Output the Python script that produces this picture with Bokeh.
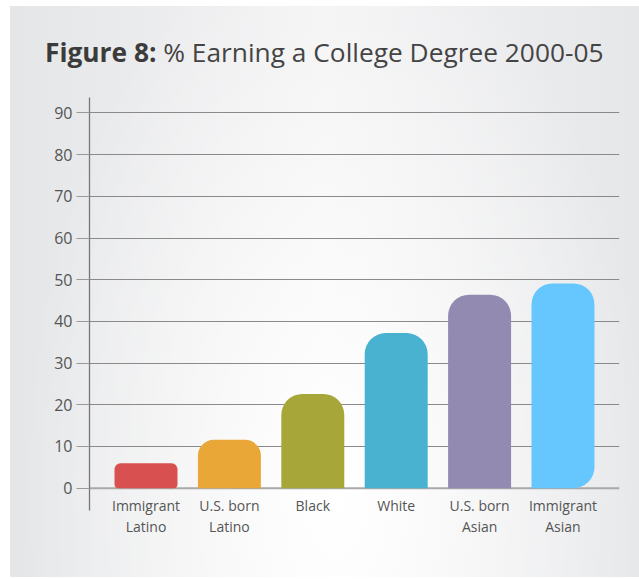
from bokeh.plotting import figure
from bokeh.models import FactorRange, Range1d, FixedTicker, Span, Div
from bokeh.layouts import column
from bokeh.embed import file_html
from bokeh.resources import INLINE

# ---- data ----
categories = ["Immigrant\nLatino", "U.S. born\nLatino", "Black", "White",
              "U.S. born\nAsian", "Immigrant\nAsian"]
values = [6.0, 11.6, 22.6, 37.2, 46.4, 49.1]
y_ticks = [0, 10, 20, 30, 40, 50, 60, 70, 80, 90]
title_bold = "Figure 8:"
title_rest = "% Earning a College Degree 2000-05"

# ---- style ----
colors = ["#d95050", "#e9a738", "#a6a639", "#4ab2d1", "#928ab0", "#66c6fe"]
radii = [(6, 6, 4, 4), (16, 16, 0, 0), (21, 21, 0, 0), (21, 21, 0, 0),
         (21, 21, 0, 0), (21, 21, 21, 0)]
FONT = "Open Sans"

title_div = Div(
    text=(f'<div style="font-family:\'Open Sans\'; font-size:26.3px; color:#444444; '
          f'padding:31px 0 0 35px; line-height:30px; white-space:nowrap;">'
          f'<b style="color:#3b3b3b">{title_bold}</b> {title_rest}</div>'),
    width=629, height=85, margin=0,
)

p = figure(
    x_range=FactorRange(factors=categories, range_padding=0.0592),
    y_range=Range1d(-5.35, 93.7),
    width=629, height=486,
    output_backend="svg", toolbar_location=None,
    min_border_left=79, min_border_right=20, min_border_top=6, min_border_bottom=67,
    background_fill_alpha=0, border_fill_alpha=0, outline_line_color=None,
    margin=0,
)

# y axis
p.yaxis.ticker = FixedTicker(ticks=y_ticks)
p.yaxis.major_tick_out = 13
p.yaxis.major_tick_in = 0
p.yaxis.minor_tick_line_color = None
p.yaxis.axis_line_color = "#777777"
p.yaxis.axis_line_width = 1.3
p.yaxis.major_tick_line_color = "#999999"
p.yaxis.major_tick_line_width = 1.2
p.yaxis.major_label_standoff = 4
p.yaxis.major_label_text_font = FONT
p.yaxis.major_label_text_font_size = "16px"
p.yaxis.major_label_text_color = "#555555"

# x axis
p.xaxis.axis_line_color = None
p.xaxis.major_tick_line_color = None
p.xaxis.minor_tick_line_color = None
p.xaxis.major_label_standoff = -21
p.xaxis.major_label_text_font = FONT
p.xaxis.major_label_text_font_size = "14px"
p.xaxis.major_label_text_color = "#555555"
p.xaxis.major_label_text_line_height = 1.15

# grid
p.xgrid.grid_line_color = None
p.ygrid.ticker = FixedTicker(ticks=[t for t in y_ticks if t > 0])
p.ygrid.grid_line_color = "#8a8a8a"
p.ygrid.grid_line_width = 1.1

p.add_layout(Span(location=0, dimension="width", line_color="#a9a9a9",
                  line_width=2, level="underlay"))

for i in range(len(categories)):
    p.vbar(x=[categories[i]], top=[values[i]], bottom=0, width=0.755,
           fill_color=colors[i], line_color=None, border_radius=radii[i])

layout = column(
    title_div, p, spacing=0, margin=(6, 0, 2, 10),
    styles={
        "background": "radial-gradient(ellipse 50% 100% at 52% 85%, rgba(255,255,255,1) 0%, "
                      "rgba(255,255,255,0) 100%), linear-gradient(to right, #e5e6e8, #f3f3f4 50%, #e6e7e9)"
    },
)

open("out.html", "w").write(file_html(layout, INLINE))
